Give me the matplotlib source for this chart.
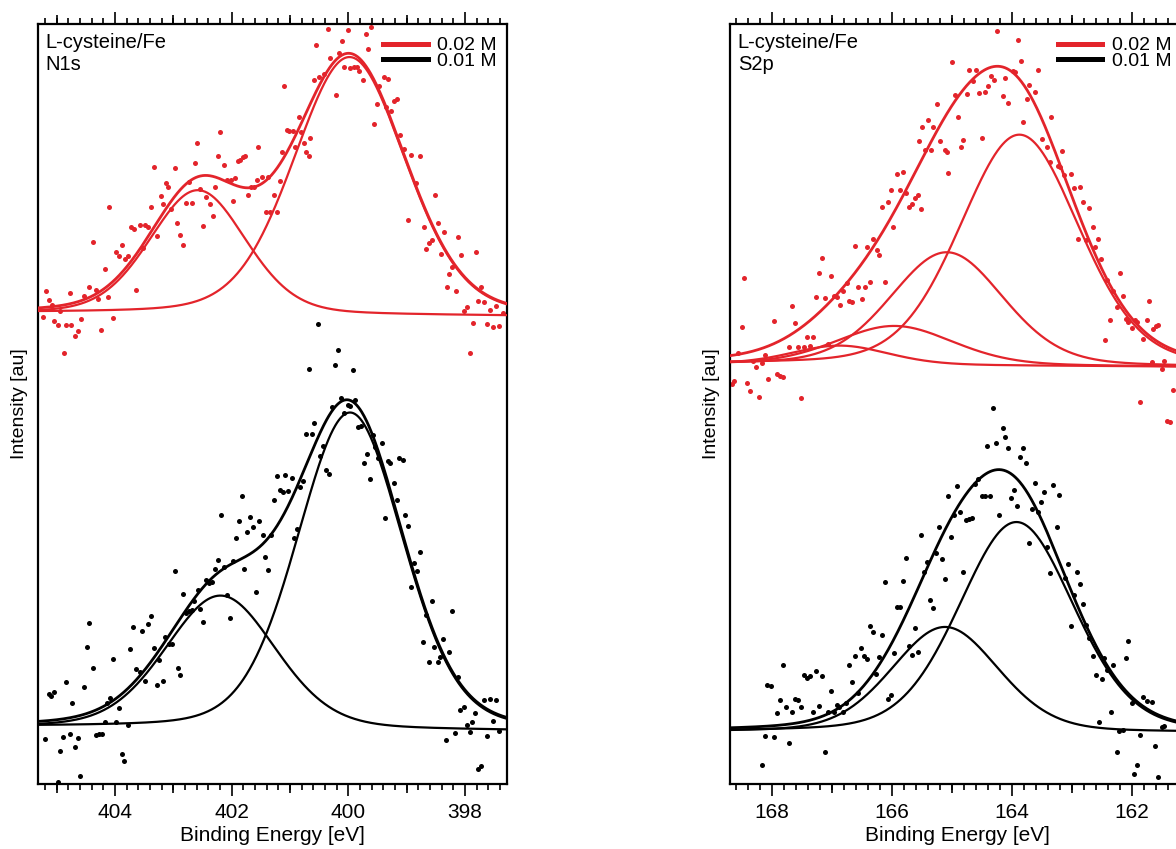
import numpy as np
import matplotlib.pyplot as plt
from matplotlib.lines import Line2D
from matplotlib.ticker import MultipleLocator

plt.rcParams['font.family'] = ['Liberation Sans', 'DejaVu Sans']

RED = '#e3242b'
BLACK = '#000000'

# ---------------- N1s ----------------
n1s_xlim = (405.325, 397.285)

n1s_hi_e = [405.24, 405.18, 405.125, 405.085, 405.04, 404.98, 404.94, 404.88, 404.84, 404.78,
            404.75, 404.685, 404.64, 404.59, 404.525, 404.44, 404.38, 404.325, 404.285, 404.24,
            404.18, 404.125, 404.095, 404.04, 403.98, 403.94, 403.885, 403.83, 403.78, 403.725,
            403.68, 403.635, 403.58, 403.525, 403.485, 403.44, 403.38, 403.325, 403.285, 403.22,
            403.18, 403.125, 403.085, 403.04, 402.98, 402.935, 402.88, 402.83, 402.785, 402.725,
            402.685, 402.63, 402.595, 402.535, 402.485, 402.44, 402.38, 402.325, 402.285, 402.23,
            402.195, 402.125, 402.08, 402.02, 401.98, 401.94, 401.885, 401.85, 401.81, 401.77,
            401.725, 401.67, 401.62, 401.565, 401.55, 401.485, 401.41, 401.38, 401.335, 401.27,
            401.22, 401.165, 401.14, 401.095, 401.05, 401.01, 400.955, 400.91, 400.85, 400.81,
            400.755, 400.725, 400.67, 400.65, 400.595, 400.555, 400.495, 400.42, 400.355, 400.31,
            400.22, 400.155, 400.115, 400.07, 400.01, 399.965, 399.91, 399.85, 399.81, 399.755,
            399.695, 399.655, 399.62, 399.555, 399.51, 399.47, 399.395, 399.355, 399.325, 399.27,
            399.21, 399.165, 399.11, 399.05, 398.97, 398.925, 398.84, 398.765, 398.71, 398.67,
            398.61, 398.57, 398.515, 398.47, 398.41, 398.365, 398.31, 398.27, 398.23, 398.155,
            398.115, 398.07, 398.02, 397.965, 397.91, 397.87, 397.81, 397.77, 397.725, 397.68,
            397.62, 397.565, 397.525, 397.47, 397.41, 397.355]
n1s_hi_i = [467, 493, 484, 479, 463, 459, 473, 431, 459, 491,
            459, 448, 453, 465, 488, 497, 542, 494, 485, 454,
            515, 487, 577, 466, 532, 528, 539, 525, 528, 557,
            555, 494, 559, 536, 559, 557, 577, 617, 548, 588,
            580, 601, 597, 575, 616, 561, 549, 539, 581, 602,
            581, 621, 641, 595, 558, 587, 580, 568, 597, 628,
            652, 619, 604, 604, 583, 606, 623, 624, 627, 628,
            589, 597, 597, 604, 637, 607, 572, 607, 572, 589,
            572, 603, 632, 698, 654, 653, 653, 637, 667, 652,
            641, 632, 628, 646, 704, 739, 707, 710, 755, 726,
            689, 731, 743, 717, 754, 716, 717, 717, 713, 704,
            750, 735, 757, 660, 680, 698, 707, 677, 705, 673,
            683, 685, 649, 635, 564, 629, 601, 628, 557, 535,
            541, 544, 589, 561, 530, 552, 497, 510, 517, 493,
            547, 529, 473, 477, 431, 461, 532, 483, 497, 482,
            460, 474, 457, 478, 458, 471]

n1s_lo_e = [405.20, 405.125, 405.095, 405.05, 404.98, 404.94, 404.895, 404.84, 404.78, 404.74,
            404.685, 404.64, 404.595, 404.535, 404.485, 404.44, 404.38, 404.325, 404.27, 404.23,
            404.18, 404.135, 404.09, 404.04, 403.98, 403.94, 403.885, 403.84, 403.78, 403.735,
            403.685, 403.64, 403.58, 403.535, 403.485, 403.44, 403.38, 403.335, 403.285, 403.24,
            403.18, 403.135, 403.08, 403.03, 402.98, 402.925, 402.88, 402.83, 402.785, 402.725,
            402.685, 402.64, 402.585, 402.535, 402.485, 402.44, 402.395, 402.34, 402.28, 402.23,
            402.185, 402.14, 402.085, 402.03, 401.985, 401.925, 401.88, 401.83, 401.785, 401.735,
            401.68, 401.63, 401.575, 401.536, 401.47, 401.43, 401.38, 401.325, 401.28, 401.228,
            401.18, 401.125, 401.08, 401.028, 400.97, 400.925, 400.88, 400.828, 400.777, 400.725,
            400.674, 400.628, 400.582, 400.525, 400.48, 400.428, 400.377, 400.325, 400.274, 400.222,
            400.17, 400.12, 400.068, 400.01, 399.965, 399.925, 399.88, 399.828, 399.782, 399.725,
            399.68, 399.622, 399.582, 399.542, 399.496, 399.428, 399.37, 399.325, 399.28, 399.222,
            399.17, 399.125, 399.068, 399.022, 398.97, 398.925, 398.88, 398.822, 398.765, 398.714,
            398.668, 398.61, 398.57, 398.525, 398.468, 398.422, 398.37, 398.32, 398.268, 398.222,
            398.17, 398.125, 398.08, 398.022, 397.97, 397.92, 397.874, 397.822, 397.77, 397.725,
            397.668, 397.622, 397.57, 397.514, 397.468, 397.411]
n1s_lo_i = [45, 90, 88, 92, 2, 33, 47, 102, 50, 81,
            37, 46, 8, 97, 137, 161, 116, 49, 50, 50,
            62, 81, 86, 125, 62, 76, 30, 23, 59, 135,
            157, 115, 112, 153, 103, 160, 168, 136, 99, 124,
            103, 147, 140, 140, 213, 116, 109, 190, 171, 173,
            174, 183, 194, 175, 162, 204, 201, 202, 215, 224,
            269, 217, 189, 166, 223, 246, 263, 288, 215, 252,
            267, 257, 192, 263, 249, 227, 214, 249, 284, 308,
            294, 292, 309, 293, 306, 246, 255, 297, 303, 350,
            415, 350, 361, 460, 328, 338, 314, 310, 377, 419,
            434, 386, 371, 379, 378, 414, 384, 357, 358, 321,
            330, 305, 349, 337, 326, 341, 266, 323, 321, 301,
            284, 326, 324, 269, 258, 197, 221, 213, 232, 142,
            169, 122, 183, 137, 122, 127, 145, 44, 132, 173,
            51, 107, 74, 77, 59, 52, 62, 71, 15, 18,
            84, 48, 85, 63, 84, 53]

# fitted components: centre (eV), height, FWHM (eV); baseline at (left, right) edge
n1s_hi_base = (470.7, 468.0)
n1s_hi_pos = [402.58, 399.98]
n1s_hi_amp = [124, 258]
n1s_hi_fwhm = [1.94, 2.26]

n1s_lo_base = (56.7, 53.3)
n1s_lo_pos = [402.19, 399.97]
n1s_lo_amp = [133, 317]
n1s_lo_fwhm = [2.23, 2.14]

# ---------------- S2p ----------------
s2p_xlim = (168.695, 161.112)

s2p_hi_e = [168.667, 168.628, 168.556, 168.5, 168.462, 168.406, 168.362, 168.306, 168.262, 168.206,
            168.167, 168.112, 168.056, 167.962, 167.906, 167.862, 167.817, 167.706, 167.656, 167.612,
            167.556, 167.517, 167.462, 167.406, 167.362, 167.306, 167.262, 167.206, 167.156, 167.112,
            167.056, 167.012, 166.956, 166.906, 166.862, 166.806, 166.75, 166.706, 166.656, 166.606,
            166.556, 166.5, 166.445, 166.406, 166.362, 166.306, 166.25, 166.212, 166.156, 166.112,
            166.056, 166.006, 165.973, 165.917, 165.862, 165.817, 165.767, 165.706, 165.667, 165.612,
            165.556, 165.545, 165.517, 165.5, 165.445, 165.39, 165.345, 165.306, 165.25, 165.195,
            165.112, 165.084, 165.056, 165.0, 164.945, 164.895, 164.85, 164.806, 164.75, 164.706,
            164.65, 164.595, 164.54, 164.5, 164.445, 164.4, 164.345, 164.295, 164.25, 164.15,
            164.106, 164.056, 163.984, 163.945, 163.9, 163.85, 163.806, 163.75, 163.706, 163.612,
            163.556, 163.5, 163.417, 163.362, 163.35, 163.223, 163.195, 163.167, 163.128, 163.017,
            162.962, 162.89, 162.862, 162.806, 162.762, 162.706, 162.65, 162.612, 162.556, 162.517,
            162.445, 162.406, 162.362, 162.317, 162.25, 162.195, 162.15, 162.095, 162.056, 162.0,
            161.945, 161.906, 161.862, 161.806, 161.75, 161.706, 161.667, 161.64, 161.595, 161.556,
            161.5, 161.462, 161.406, 161.362, 161.306]
s2p_hi_i = [400, 403, 431, 457, 506, 401, 393, 423, 417, 387,
            421, 429, 405, 463, 410, 408, 407, 437, 478, 461,
            437, 386, 437, 447, 438, 447, 487, 511, 526, 486,
            440, 508, 488, 487, 479, 493, 501, 483, 482, 538,
            497, 485, 497, 537, 502, 545, 534, 529, 577, 502,
            582, 594, 557, 610, 594, 612, 591, 577, 580, 586,
            589, 643, 575, 657, 634, 664, 634, 657, 680, 643,
            634, 632, 611, 722, 689, 667, 637, 644, 690, 714,
            703, 714, 691, 646, 692, 698, 708, 704, 753, 688,
            706, 681, 713, 712, 744, 723, 662, 685, 699, 692,
            714, 645, 637, 622, 667, 618, 617, 633, 609, 610,
            596, 545, 597, 582, 544, 576, 557, 537, 545, 525,
            444, 504, 464, 493, 477, 511, 488, 465, 462, 456,
            464, 462, 382, 445, 464, 483, 422, 455, 458, 459,
            415, 423, 363, 362, 394]

s2p_lo_e = [168.167, 168.112, 168.073, 168.012, 167.956, 167.906, 167.862, 167.817, 167.762, 167.706,
            167.656, 167.612, 167.556, 167.512, 167.462, 167.406, 167.362, 167.306, 167.262, 167.212,
            167.167, 167.112, 167.056, 167.012, 166.962, 166.917, 166.873, 166.806, 166.762, 166.706,
            166.656, 166.606, 166.562, 166.512, 166.462, 166.406, 166.362, 166.306, 166.262, 166.206,
            166.156, 166.112, 166.056, 166.006, 165.962, 165.917, 165.862, 165.817, 165.762, 165.706,
            165.656, 165.612, 165.556, 165.512, 165.462, 165.417, 165.362, 165.306, 165.262, 165.212,
            165.167, 165.112, 165.056, 165.017, 164.962, 164.906, 164.862, 164.806, 164.762, 164.706,
            164.662, 164.612, 164.556, 164.5, 164.445, 164.406, 164.362, 164.306, 164.262, 164.206,
            164.15, 164.106, 164.056, 164.012, 163.962, 163.906, 163.856, 163.806, 163.756, 163.706,
            163.656, 163.606, 163.556, 163.506, 163.462, 163.406, 163.356, 163.306, 163.25, 163.206,
            163.112, 163.056, 163.006, 162.962, 162.906, 162.862, 162.806, 162.762, 162.706, 162.65,
            162.6, 162.55, 162.5, 162.456, 162.406, 162.35, 162.306, 162.25, 162.206, 162.15,
            162.1, 162.056, 162.0, 161.956, 161.906, 161.856, 161.806, 161.75, 161.667, 161.612,
            161.556, 161.5, 161.456]
s2p_lo_i = [19, 48, 99, 98, 47, 71, 84, 119, 77, 41,
            72, 85, 84, 77, 109, 106, 108, 72, 113, 78,
            108, 32, 72, 93, 72, 79, 77, 72, 81, 119,
            102, 128, 91, 136, 128, 125, 158, 152, 110, 127,
            149, 202, 85, 89, 131, 177, 177, 203, 226, 138,
            129, 156, 132, 249, 212, 222, 184, 176, 231, 257,
            225, 205, 288, 247, 269, 298, 272, 212, 264, 265,
            266, 300, 305, 288, 288, 338, 288, 376, 341, 269,
            356, 347, 336, 286, 294, 278, 327, 336, 321, 241,
            275, 301, 272, 282, 292, 237, 211, 299, 257, 289,
            206, 220, 158, 189, 212, 200, 180, 159, 146, 128,
            109, 62, 105, 126, 114, 72, 119, 32, 53, 54,
            126, 143, 81, 10, 19, 49, 87, 83, 82, 38,
            7, 57, 58]

s2p_hi_base = (420.0, 417.3)
s2p_hi_pos = [163.87, 165.08, 165.95, 166.86]
s2p_hi_amp = [231, 113, 39, 19]
s2p_hi_fwhm = [2.34, 2.22, 2.3, 1.9]

s2p_lo_base = (52.3, 51.7)
s2p_lo_pos = [163.92, 165.11]
s2p_lo_amp = [210, 105]
s2p_lo_fwhm = [2.25, 2.1]

labels = ['0.02 M', '0.01 M']


def pvoigt(x, c, h, w, eta=0.2):
    g = np.exp(-4 * np.log(2) * (x - c) ** 2 / w ** 2)
    l = 1 / (1 + 4 * (x - c) ** 2 / w ** 2)
    return h * ((1 - eta) * g + eta * l)


def draw_fit(ax, xlim, e, i, base, pos, amp, fwhm, color):
    ax.scatter(e, i, s=13, color=color, linewidths=0, zorder=2)
    x = np.linspace(min(xlim), max(xlim), 800)
    bg = np.interp(x, [xlim[1], xlim[0]], [base[1], base[0]])
    total = bg.copy()
    for c, h, w in zip(pos, amp, fwhm):
        p = pvoigt(x, c, h, w)
        total += p
        ax.plot(x, bg + p, color=color, lw=1.6, zorder=3)
    ax.plot(x, total, color=color, lw=2.0, zorder=3)


def setup(ax, xlim, name):
    tw = ax.twiny()
    tw.set_xlim(xlim)
    odd = [v for v in range(int(min(xlim)) + 1, int(max(xlim)) + 1) if v % 2 == 1]
    tw.set_xticks(odd)
    tw.tick_params(axis='x', direction='out', length=6.5, width=1.2,
                   top=True, bottom=True, labeltop=False, labelbottom=False)
    for s in tw.spines.values():
        s.set_visible(False)

    ax.set_xlim(xlim)
    ax.set_ylim(0, 760)
    ax.set_yticks([])
    ax.xaxis.set_major_locator(MultipleLocator(2))
    ax.xaxis.set_minor_locator(MultipleLocator(0.2))
    ax.tick_params(axis='x', which='both', direction='out', top=True, bottom=True,
                   labeltop=False, labelbottom=True, width=1.2, labelsize=15, pad=5)
    ax.tick_params(axis='x', which='major', length=8.5)
    ax.tick_params(axis='x', which='minor', length=4.5)
    for s in ax.spines.values():
        s.set_linewidth(1.6)
    ax.set_xlabel('Binding Energy [eV]', fontsize=15, labelpad=3)
    ax.set_ylabel('Intensity [au]', fontsize=14, labelpad=7)
    ax.text(0.017, 0.988, 'L-cysteine/Fe\n' + name, transform=ax.transAxes,
            ha='left', va='top', fontsize=14.5, linespacing=1.2)


fig = plt.figure(figsize=(11.76, 8.49), dpi=100)
ax1 = fig.add_axes([0.0321, 0.0766, 0.3988, 0.8952])
ax2 = fig.add_axes([0.6207, 0.0766, 0.3869, 0.8952])

setup(ax1, n1s_xlim, 'N1s')
setup(ax2, s2p_xlim, 'S2p')

draw_fit(ax1, n1s_xlim, n1s_lo_e, n1s_lo_i, n1s_lo_base, n1s_lo_pos, n1s_lo_amp, n1s_lo_fwhm, BLACK)
draw_fit(ax1, n1s_xlim, n1s_hi_e, n1s_hi_i, n1s_hi_base, n1s_hi_pos, n1s_hi_amp, n1s_hi_fwhm, RED)
draw_fit(ax2, s2p_xlim, s2p_lo_e, s2p_lo_i, s2p_lo_base, s2p_lo_pos, s2p_lo_amp, s2p_lo_fwhm, BLACK)
draw_fit(ax2, s2p_xlim, s2p_hi_e, s2p_hi_i, s2p_hi_base, s2p_hi_pos, s2p_hi_amp, s2p_hi_fwhm, RED)

for ax, anchor in [(ax1, 0.979), (ax2, 0.971)]:
    handles = [Line2D([], [], color=RED, lw=3.6), Line2D([], [], color=BLACK, lw=3.6)]
    ax.legend(handles, labels, loc='upper right', bbox_to_anchor=(anchor, 0.983),
              frameon=False, fontsize=14, handlelength=2.3, handletextpad=0.5,
              labelspacing=-0.1, borderpad=0, borderaxespad=0)

fig.savefig('out.png', dpi=100)
